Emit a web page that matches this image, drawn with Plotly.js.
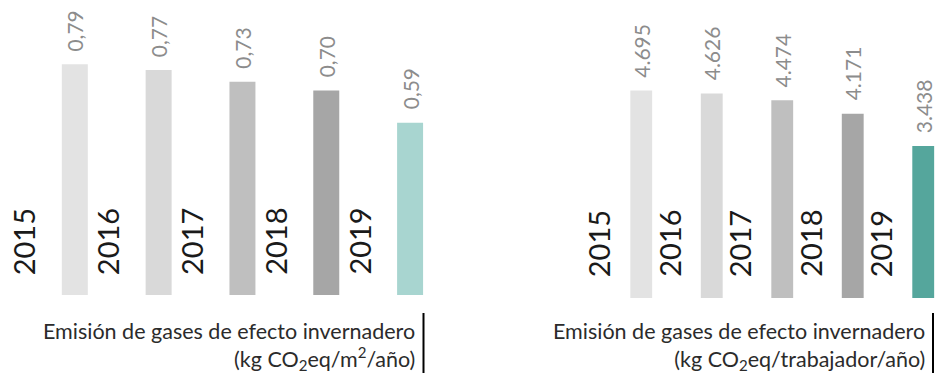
<!DOCTYPE html>
<html>
<head>
<meta charset="utf-8">
<script src="https://cdn.plot.ly/plotly-3.0.1.min.js"></script>
<style>html,body{margin:0;padding:0;background:#fff;}#chart{width:940px;height:373px;}</style>
</head>
<body>
<div id="chart"></div>
<script>
// Data
const years = ["2015", "2016", "2017", "2018", "2019"];
const perM2 = [0.79, 0.77, 0.73, 0.70, 0.59];
const perM2Labels = ["0,79", "0,77", "0,73", "0,70", "0,59"];
const perWorker = [4695, 4626, 4474, 4171, 3438];
const perWorkerLabels = ["4.695", "4.626", "4.474", "4.171", "3.438"];
const leftColors = ["#e3e3e3", "#d9d9d9", "#bfbfbf", "#a6a6a6", "#a8d5d0"];
const rightColors = ["#e3e3e3", "#d9d9d9", "#bfbfbf", "#a6a6a6", "#55a69c"];
const leftTitle = "Emisión de gases de efecto invernadero<br>(kg CO<sub>2</sub>eq/m<sup>2</sup>/año)";
const rightTitle = "Emisión de gases de efecto invernadero<br>(kg CO<sub>2</sub>eq/trabajador/año)";

const W = 940, H = 373;
const FONT = "Lato, 'Open Sans', sans-serif";

const traces = [
  {type: "bar", x: years, y: perM2, marker: {color: leftColors}, xaxis: "x", yaxis: "y",
   hoverinfo: "skip", showlegend: false},
  {type: "bar", x: years, y: perWorker, marker: {color: rightColors}, xaxis: "x2", yaxis: "y2",
   hoverinfo: "skip", showlegend: false}
];

const annotations = [];
years.forEach((yr, i) => {
  // value labels (x given as category index)
  annotations.push({xref: "x", yref: "y", x: i, y: perM2[i], text: perM2Labels[i],
    textangle: -90, showarrow: false, xanchor: "center", yanchor: "bottom", yshift: 11,
    font: {family: FONT, size: 21, color: "#8c8c8c"}});
  annotations.push({xref: "x2", yref: "y2", x: i, y: perWorker[i], text: perWorkerLabels[i],
    textangle: -90, showarrow: false, xanchor: "center", yanchor: "bottom", yshift: 11,
    font: {family: FONT, size: 21, color: "#8c8c8c"}});
  // year labels
  annotations.push({xref: "x", yref: "y", x: i, y: 0, text: yr,
    textangle: -90, showarrow: false, xanchor: "center", yanchor: "bottom", xshift: -51, yshift: 18,
    font: {family: FONT, size: 29, color: "#1a1a1a"}});
  annotations.push({xref: "x2", yref: "y2", x: i, y: 0, text: yr,
    textangle: -90, showarrow: false, xanchor: "center", yanchor: "bottom", xshift: -42.5, yshift: 19,
    font: {family: FONT, size: 29, color: "#1a1a1a"}});
});
annotations.push({xref: "paper", yref: "paper", x: 417 / W, y: (H - 316) / H, text: leftTitle,
  showarrow: false, xanchor: "right", yanchor: "top", align: "right",
  font: {family: FONT, size: 21.5, color: "#2b2b2b"}});
annotations.push({xref: "paper", yref: "paper", x: 927 / W, y: (H - 316) / H, text: rightTitle,
  showarrow: false, xanchor: "right", yanchor: "top", align: "right",
  font: {family: FONT, size: 21.5, color: "#2b2b2b"}});

const axBase = {showgrid: false, zeroline: false, showline: false, showticklabels: false, ticks: "", fixedrange: true};

const layout = {
  width: W, height: H,
  margin: {l: 0, r: 0, t: 0, b: 0, pad: 0},
  paper_bgcolor: "#ffffff", plot_bgcolor: "#ffffff",
  bargap: 0.69,
  showlegend: false,
  xaxis: Object.assign({}, axBase, {type: "category", domain: [32.9 / W, 452 / W], range: [-0.5, 4.5], anchor: "y"}),
  yaxis: Object.assign({}, axBase, {domain: [(H - 295) / H, 1], range: [0, 1.01], anchor: "x"}),
  xaxis2: Object.assign({}, axBase, {type: "category", domain: [606 / W, 1], range: [-0.5, 4.238], anchor: "y2"}),
  yaxis2: Object.assign({}, axBase, {domain: [(H - 298) / H, 1], range: [0, 6742], anchor: "x2"}),
  annotations: annotations,
  shapes: [
    {type: "line", xref: "paper", yref: "paper", x0: 423.5 / W, x1: 423.5 / W, y0: 0, y1: (H - 313) / H,
     line: {color: "#000000", width: 2}},
    {type: "line", xref: "paper", yref: "paper", x0: 933 / W, x1: 933 / W, y0: 0, y1: (H - 313) / H,
     line: {color: "#000000", width: 2}}
  ]
};

Plotly.newPlot("chart", traces, layout, {displayModeBar: false, staticPlot: true});
</script>
</body>
</html>
